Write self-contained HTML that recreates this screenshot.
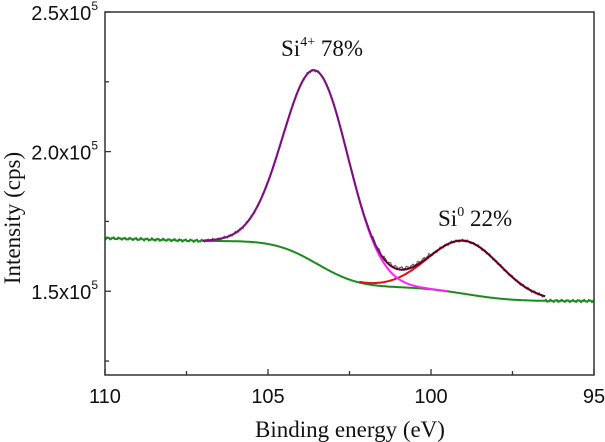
<!DOCTYPE html>
<html><head><meta charset="utf-8"><style>
body{margin:0;background:#fff;}
svg{display:block;}
.tk{font-family:"Liberation Sans",Arial,sans-serif;font-size:20px;fill:#111;}
.tt{font-family:"Liberation Serif","Times New Roman",serif;font-size:23px;fill:#111;}
</style></head><body>
<svg id="chart" width="605" height="442">
<g id="marks"></g>
<rect x="105" y="12" width="489" height="363" fill="none" stroke="#333" stroke-width="1.5"/>
<g id="axes"></g>
<text class="tt" x="281" y="56">Si<tspan font-size="14" dy="-10">4+</tspan><tspan dy="10"> 78%</tspan></text>
<text class="tt" x="438" y="226">Si<tspan font-size="14" dy="-10">0</tspan><tspan dy="10"> 22%</tspan></text>
<text class="tt" x="350" y="437" text-anchor="middle">Binding energy (eV)</text>
<text class="tt" transform="translate(20,218) rotate(-90)" text-anchor="middle">Intensity (cps)</text>
</svg>
<script>
const xTicks=[110,105,100,95];
const xMinor=[107.5,102.5,97.5];
const yTicks=[1.5,2.0,2.5];
const yTickLabels=["1.5x10","2.0x10","2.5x10"];
const yMinor=[1.25,1.75,2.25];
const peakNames=["Si4+","Si0"];
const peakCenters=[103.5,98.95];
const peakAmps=[0.69,0.19];
const peakFwhm=[2.35,2.6];
const bgHigh=[1.68];
const bgLow=[1.465];
const flatLeft=[1.69];
const fitRange=[107,96.5];

const X=e=>105+(110-e)*(489/15);
const Y=v=>375-(v-1.2)*(363/1.3);
const NS="http://www.w3.org/2000/svg";
const marks=document.getElementById('marks'),axes=document.getElementById('axes');
function gauss(e,i){const s=peakFwhm[i]/2.3548;return peakAmps[i]*Math.exp(-0.5*((e-peakCenters[i])/s)**2);}
const es=[];for(let e=110;e>=95-1e-9;e-=0.02)es.push(+e.toFixed(3));
let acc=0;const asc=es.slice().reverse();
const cm={};for(const e of asc){acc+=gauss(e,0)+gauss(e,1);cm[e]=acc;}
function bg(e){return bgLow[0]+(bgHigh[0]-bgLow[0])*cm[e]/acc;}
function leftBg(e){if(e>107)return flatLeft[0]-(flatLeft[0]-bg(107))*(110-e)/3;return bg(e);}
function path(pts,color,w,name){const p=document.createElementNS(NS,'path');
p.setAttribute('d','M'+pts.map(q=>X(q[0]).toFixed(1)+','+Y(q[1]).toFixed(1)).join('L'));
p.setAttribute('fill','none');p.setAttribute('stroke',color);p.setAttribute('stroke-width',w);


marks.appendChild(p);}
const inFit=e=>e<=fitRange[0]&&e>=fitRange[1];
const ripple=e=>0.0025*Math.sin(e*37)+0.0015*Math.sin(e*91);
path(es.filter(inFit).map(e=>[e,bg(e)+gauss(e,0)+gauss(e,1)+ripple(e)*1.5+(e<101.8&&e>100?0.006:0)]),'#555',1,'raw-data');
path(es.map(e=>[e,(inFit(e)?bg(e):leftBg(e)+ripple(e))]),'#1a8a1a',2,'background');
path(es.filter(e=>inFit(e)&&e<=102.2).map(e=>[e,bg(e)+gauss(e,1)]),'#e01010',2,'si0-component');
path(es.filter(e=>inFit(e)&&e>=99.5).map(e=>[e,bg(e)+gauss(e,0)]),'#ff20ff',2,'si4-component');
path(es.filter(inFit).map(e=>[e,bg(e)+gauss(e,0)+gauss(e,1)]),'#7a107a',2,'fit-envelope');
path(es.filter(e=>inFit(e)&&e<=101.5).map(e=>[e,bg(e)+gauss(e,0)+gauss(e,1)]),'#600010',1.6,'fit-envelope-right');
function line(x1,y1,x2,y2,name){const l=document.createElementNS(NS,'line');
l.setAttribute('x1',x1);l.setAttribute('y1',y1);l.setAttribute('x2',x2);l.setAttribute('y2',y2);
l.setAttribute('stroke','#333');l.setAttribute('stroke-width',1.3);


axes.appendChild(l);}
function text(x,y,s,anchor,name){const t=document.createElementNS(NS,'text');
t.setAttribute('x',x);t.setAttribute('y',y);t.setAttribute('class','tk');t.setAttribute('text-anchor',anchor);t.textContent=s;


axes.appendChild(t);return t;}
xTicks.forEach(v=>{line(X(v),375,X(v),369,'x-tick');text(X(v),403,String(v),'middle','x-tick-label');});
xMinor.forEach(v=>line(X(v),375,X(v),371,'x-minor-tick'));
yTicks.forEach((v,i)=>{line(105,Y(v),111,Y(v),'y-tick');const t=text(98,Y(v)+8,yTickLabels[i],'end','y-tick-label');
const s=document.createElementNS(NS,'tspan');s.setAttribute('font-size','12');s.setAttribute('dy','-10');s.textContent='5';t.appendChild(s);});
yMinor.forEach(v=>line(105,Y(v),109,Y(v),'y-minor-tick'));
</script>
</body></html>
